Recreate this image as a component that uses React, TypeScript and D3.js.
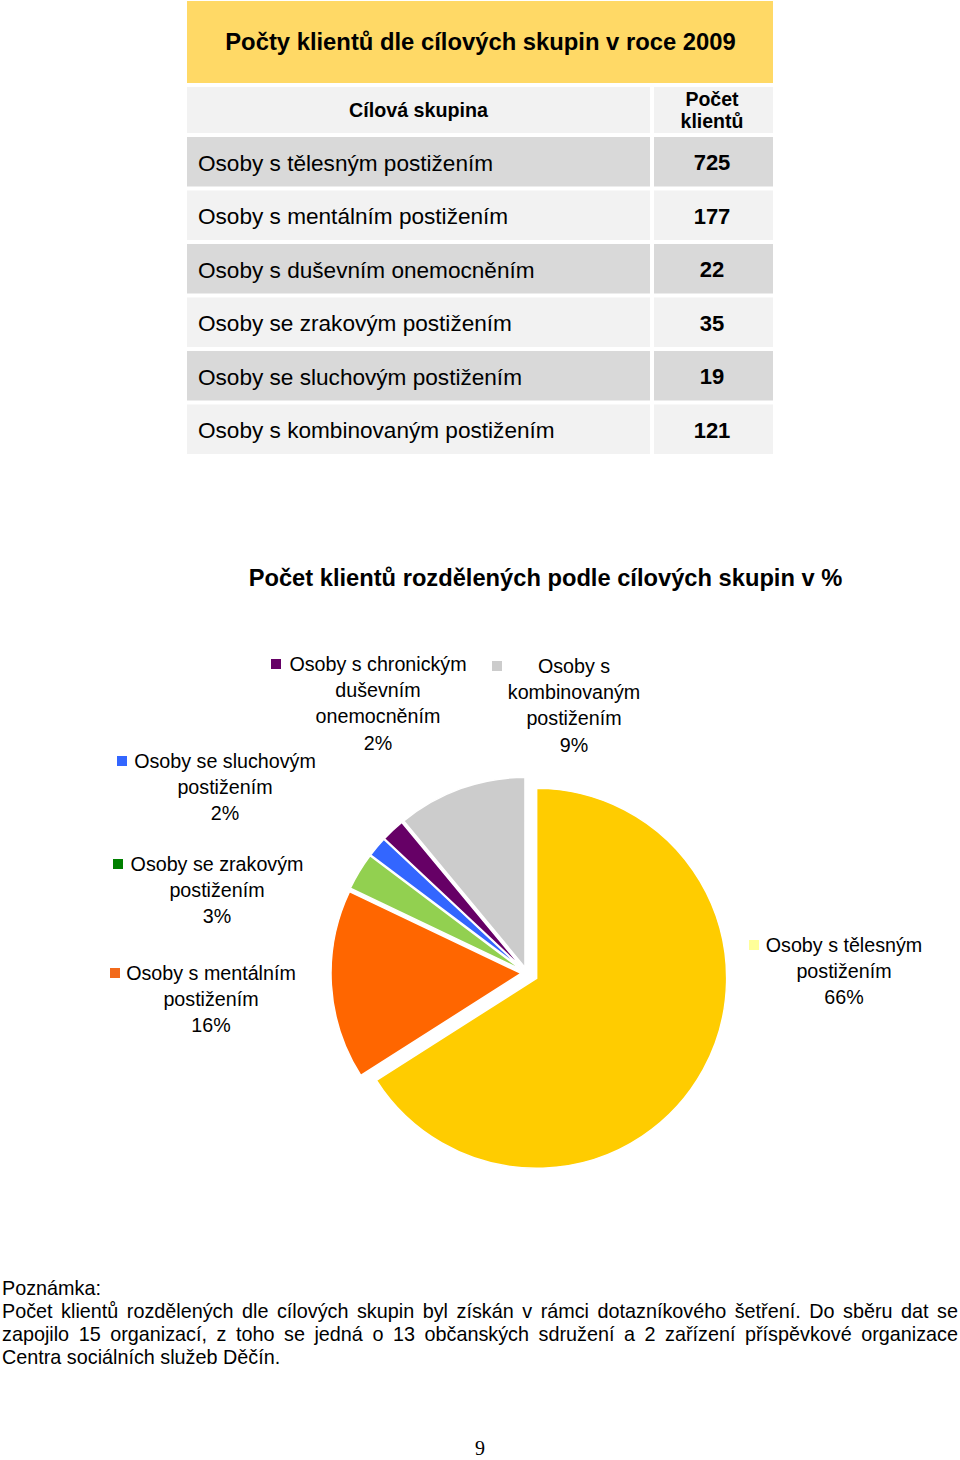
import React, { useEffect, useRef } from "react";
import * as d3 from "d3";

// ---------- DATA ----------
const tableTitle = "Počty klientů dle cílových skupin v roce 2009";
const headerGroup = "Cílová skupina";
const headerCount = ["Počet", "klientů"];
const tableCategories = [
  "Osoby s tělesným postižením",
  "Osoby s mentálním postižením",
  "Osoby s duševním onemocněním",
  "Osoby se zrakovým postižením",
  "Osoby se sluchovým postižením",
  "Osoby s kombinovaným postižením",
];
const tableValues = [725, 177, 22, 35, 19, 121];

const pieTitle = "Počet klientů rozdělených podle cílových skupin v %";
const pieCategories = [
  "Osoby s tělesným postižením",
  "Osoby s mentálním postižením",
  "Osoby se zrakovým postižením",
  "Osoby se sluchovým postižením",
  "Osoby s chronickým duševním onemocněním",
  "Osoby s kombinovaným postižením",
];
const pieValues = [725, 177, 35, 19, 22, 121];
const piePercentLabels = ["66%", "16%", "3%", "2%", "2%", "9%"];
const pieLabelLines = [
  ["Osoby s tělesným", "postižením"],
  ["Osoby s mentálním", "postižením"],
  ["Osoby se zrakovým", "postižením"],
  ["Osoby se sluchovým", "postižením"],
  ["Osoby s chronickým", "duševním", "onemocněním"],
  ["Osoby s", "kombinovaným", "postižením"],
];

const noteTitle = "Poznámka:";
const noteLines = [
  "Počet klientů rozdělených dle cílových skupin byl získán v rámci dotazníkového šetření. Do sběru dat se",
  "zapojilo 15 organizací, z toho se jedná o 13 občanských sdružení a 2 zařízení příspěvkové organizace",
  "Centra sociálních služeb Děčín.",
];
const pageNumber = "9";

// ---------- STYLE / LAYOUT ----------
const FONT = "'Liberation Sans', Arial, Helvetica, sans-serif";
const sliceColors = ["#FFCC00", "#FF6600", "#92D050", "#3366FF", "#660066", "#CCCCCC"];
const keyColors = ["#FFFF99", "#F26A1B", "#008000", "#3366FF", "#660066", "#CCCCCC"];
const explode = [11, 6, 6, 6, 6, 6];
const labelLayout = [
  { cx: 844, y: 945, kx: 749, ky: 940 },
  { cx: 211, y: 973, kx: 110, ky: 968 },
  { cx: 217, y: 864, kx: 113, ky: 859 },
  { cx: 225, y: 761, kx: 117, ky: 756 },
  { cx: 378, y: 664, kx: 271, ky: 659 },
  { cx: 574, y: 666, kx: 492, ky: 661 },
];

export default function App() {
  const noteRef = useRef<SVGGElement>(null);

  useEffect(() => {
    if (!noteRef.current) return;
    const target = 956;
    d3.select(noteRef.current)
      .selectAll<SVGTextElement, unknown>("text.justify")
      .each(function () {
        const el = this as SVGTextElement;
        el.style.wordSpacing = "0px";
        const w = el.getComputedTextLength();
        const txt = el.textContent || "";
        const spaces = (txt.match(/ /g) || []).length;
        if (spaces > 0) {
          el.style.wordSpacing = `${(target - w) / spaces}px`;
        }
      });
  }, []);

  // table geometry
  const tx0 = 187, tx1 = 773, colSplit = 650, col2x = 654;
  const rowY = d3.range(tableCategories.length).map((i) => 137 + i * 53.5);
  const rowH = 49.5;

  // pie
  const cx = 527, cy = 973, r = 190;
  const pie = d3.pie<number>().sort(null).value((d) => d).startAngle(0).endAngle(2 * Math.PI);
  const arcs = pie(pieValues);
  const arcGen = d3.arc<d3.PieArcDatum<number>>().innerRadius(0).outerRadius(r);

  return (
    <svg
      width={960}
      height={1460}
      style={{ position: "absolute", left: 0, top: 0, background: "#fff" }}
      fontFamily={FONT}
    >
      {/* Table */}
      <rect x={tx0} y={1} width={tx1 - tx0} height={82} fill="#FFD966" />
      <text x={480.5} y={42} dy="0.35em" textAnchor="middle" fontSize={23.8} fontWeight="bold" fill="#000">
        {tableTitle}
      </text>
      <rect x={tx0} y={87} width={colSplit - tx0} height={46} fill="#F2F2F2" />
      <rect x={col2x} y={87} width={tx1 - col2x} height={46} fill="#F2F2F2" />
      <text x={418.5} y={110} dy="0.35em" textAnchor="middle" fontSize={19.7} fontWeight="bold">
        {headerGroup}
      </text>
      {headerCount.map((t, i) => (
        <text key={t} x={712} y={99 + i * 22} dy="0.35em" textAnchor="middle" fontSize={19.5} fontWeight="bold">
          {t}
        </text>
      ))}
      {tableCategories.map((c, i) => {
        const fill = i % 2 === 0 ? "#D9D9D9" : "#F2F2F2";
        return (
          <g key={c}>
            <rect x={tx0} y={rowY[i]} width={colSplit - tx0} height={rowH} fill={fill} />
            <rect x={col2x} y={rowY[i]} width={tx1 - col2x} height={rowH} fill={fill} />
            <text x={198} y={rowY[i] + rowH / 2 + 1} dy="0.35em" fontSize={22.6} fill="#000">
              {c}
            </text>
            <text x={712} y={rowY[i] + rowH / 2 + 1} dy="0.35em" textAnchor="middle" fontSize={22} fontWeight="bold">
              {tableValues[i]}
            </text>
          </g>
        );
      })}

      {/* Pie title */}
      <text x={545.5} y={578} dy="0.35em" textAnchor="middle" fontSize={23.7} fontWeight="bold">
        {pieTitle}
      </text>

      {/* Pie */}
      <g transform={`translate(${cx},${cy})`}>
        {arcs.map((a, i) => {
          const mid = (a.startAngle + a.endAngle) / 2;
          const dx = Math.sin(mid) * explode[i];
          const dy = -Math.cos(mid) * explode[i];
          return (
            <path
              key={pieCategories[i]}
              d={arcGen(a) || ""}
              transform={`translate(${dx},${dy})`}
              fill={sliceColors[i]}
              stroke="#fff"
              strokeWidth={1.5}
            />
          );
        })}
      </g>

      {/* Pie labels */}
      {pieLabelLines.map((lines, i) => {
        const L = labelLayout[i];
        const all = [...lines, piePercentLabels[i]];
        return (
          <g key={pieCategories[i]}>
            <rect x={L.kx} y={L.ky} width={10} height={10} fill={keyColors[i]} />
            {all.map((t, j) => (
              <text key={j} x={L.cx} y={L.y + j * 26.3} dy="0.35em" textAnchor="middle" fontSize={19.7} fill="#000">
                {t}
              </text>
            ))}
          </g>
        );
      })}

      {/* Note */}
      <g ref={noteRef}>
        <text x={2} y={1288} dy="0.35em" fontSize={19.8}>
          {noteTitle}
        </text>
        {noteLines.map((t, i) => (
          <text
            key={i}
            className={i < noteLines.length - 1 ? "justify" : ""}
            x={2}
            y={1311 + i * 23}
            dy="0.35em"
            fontSize={19.8}
          >
            {t}
          </text>
        ))}
      </g>

      {/* Page number */}
      <text x={480} y={1448} dy="0.35em" textAnchor="middle" fontSize={20} fontFamily="'Liberation Serif', 'Times New Roman', serif">
        {pageNumber}
      </text>
    </svg>
  );
}
